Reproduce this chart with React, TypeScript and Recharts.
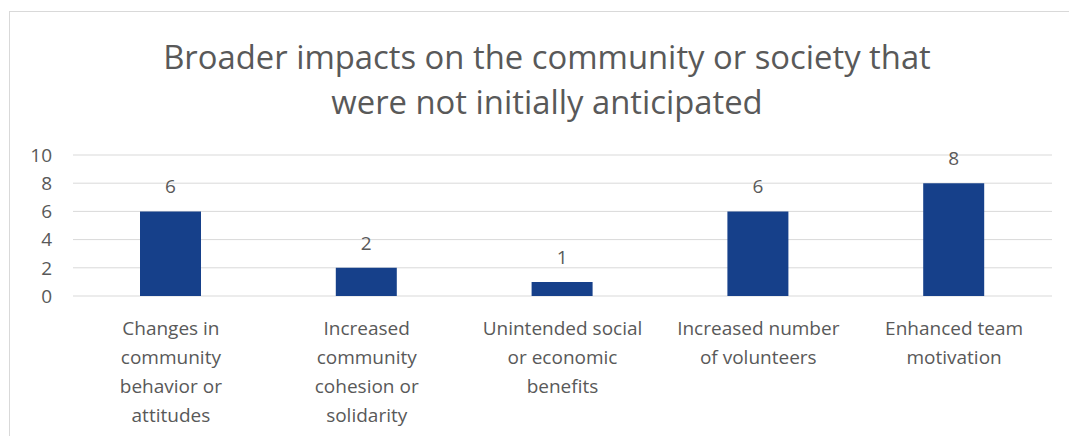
import React from "react";
import { BarChart, Bar, XAxis, YAxis, CartesianGrid, LabelList } from "recharts";

const titleLines = ["Broader impacts on the community or society that", "were not initially anticipated"];
const categories = [
  "Changes in community behavior or attitudes",
  "Increased community cohesion or solidarity",
  "Unintended social or economic benefits",
  "Increased number of volunteers",
  "Enhanced team motivation",
];
const categoryLines: string[][] = [
  ["Changes in", "community", "behavior or", "attitudes"],
  ["Increased", "community", "cohesion or", "solidarity"],
  ["Unintended social", "or economic", "benefits"],
  ["Increased number", "of volunteers"],
  ["Enhanced team", "motivation"],
];
const values = [6, 2, 1, 6, 8];
const yTicks = [0, 2, 4, 6, 8, 10];

const data = categories.map((c, i) => ({ name: c, value: values[i], idx: i }));

const FONT = "'Open Sans', 'DejaVu Sans', sans-serif";
const TEXT = "#595959";
const FS = 19;

const XTick = (props: any) => {
  const { x, y, index } = props;
  const lines = categoryLines[index] || [];
  return (
    <g>
      {lines.map((l, i) => (
        <text
          key={i}
          x={x}
          y={y + 39 + i * 29}
          textAnchor="middle"
          fill={TEXT}
          fontSize={FS}
          fontFamily={FONT}
        >
          {l}
        </text>
      ))}
    </g>
  );
};

export default function App() {
  return (
    <div style={{ position: "fixed", left: 0, top: 0, width: 1069, height: 436, overflow: "hidden", background: "#fff" }}>
      <div
        style={{
          position: "absolute",
          left: 9,
          top: 11,
          width: 1200,
          height: 600,
          borderLeft: "1px solid #d9d9d9",
          borderTop: "1px solid #d9d9d9",
        }}
      />
      <div
        style={{
          position: "absolute",
          left: 0,
          top: 34,
          width: 1094,
          textAlign: "center",
          fontFamily: FONT,
          fontSize: 32.8,
          lineHeight: "45px",
          color: TEXT,
        }}
      >
        {titleLines.map((t, i) => (
          <div key={i}>{t}</div>
        ))}
      </div>
      <div style={{ position: "absolute", left: 0, top: 0 }}>
        <BarChart
          width={1069}
          height={436}
          data={data}
          margin={{ top: 155, right: 17, bottom: 10, left: 0 }}
        >
          <CartesianGrid vertical={false} stroke="#d9d9d9" strokeWidth={1} />
          <XAxis
            dataKey="name"
            interval={0}
            height={130}
            axisLine={false}
            tickLine={false}
            tickSize={0}
            tickMargin={0}
            tick={<XTick />}
          />
          <YAxis
            width={73}
            domain={[0, 10]}
            ticks={yTicks}
            axisLine={false}
            tickLine={false}
            tickSize={0}
            tickMargin={21}
            tick={{ fill: TEXT, fontSize: FS, fontFamily: FONT }}
          />
          <Bar dataKey="value" fill="#16408A" barSize={61} isAnimationActive={false}>
            <LabelList
              dataKey="value"
              position="top"
              offset={18}
              fill={TEXT}
              fontSize={FS}
              fontFamily={FONT}
            />
          </Bar>
        </BarChart>
      </div>
    </div>
  );
}
